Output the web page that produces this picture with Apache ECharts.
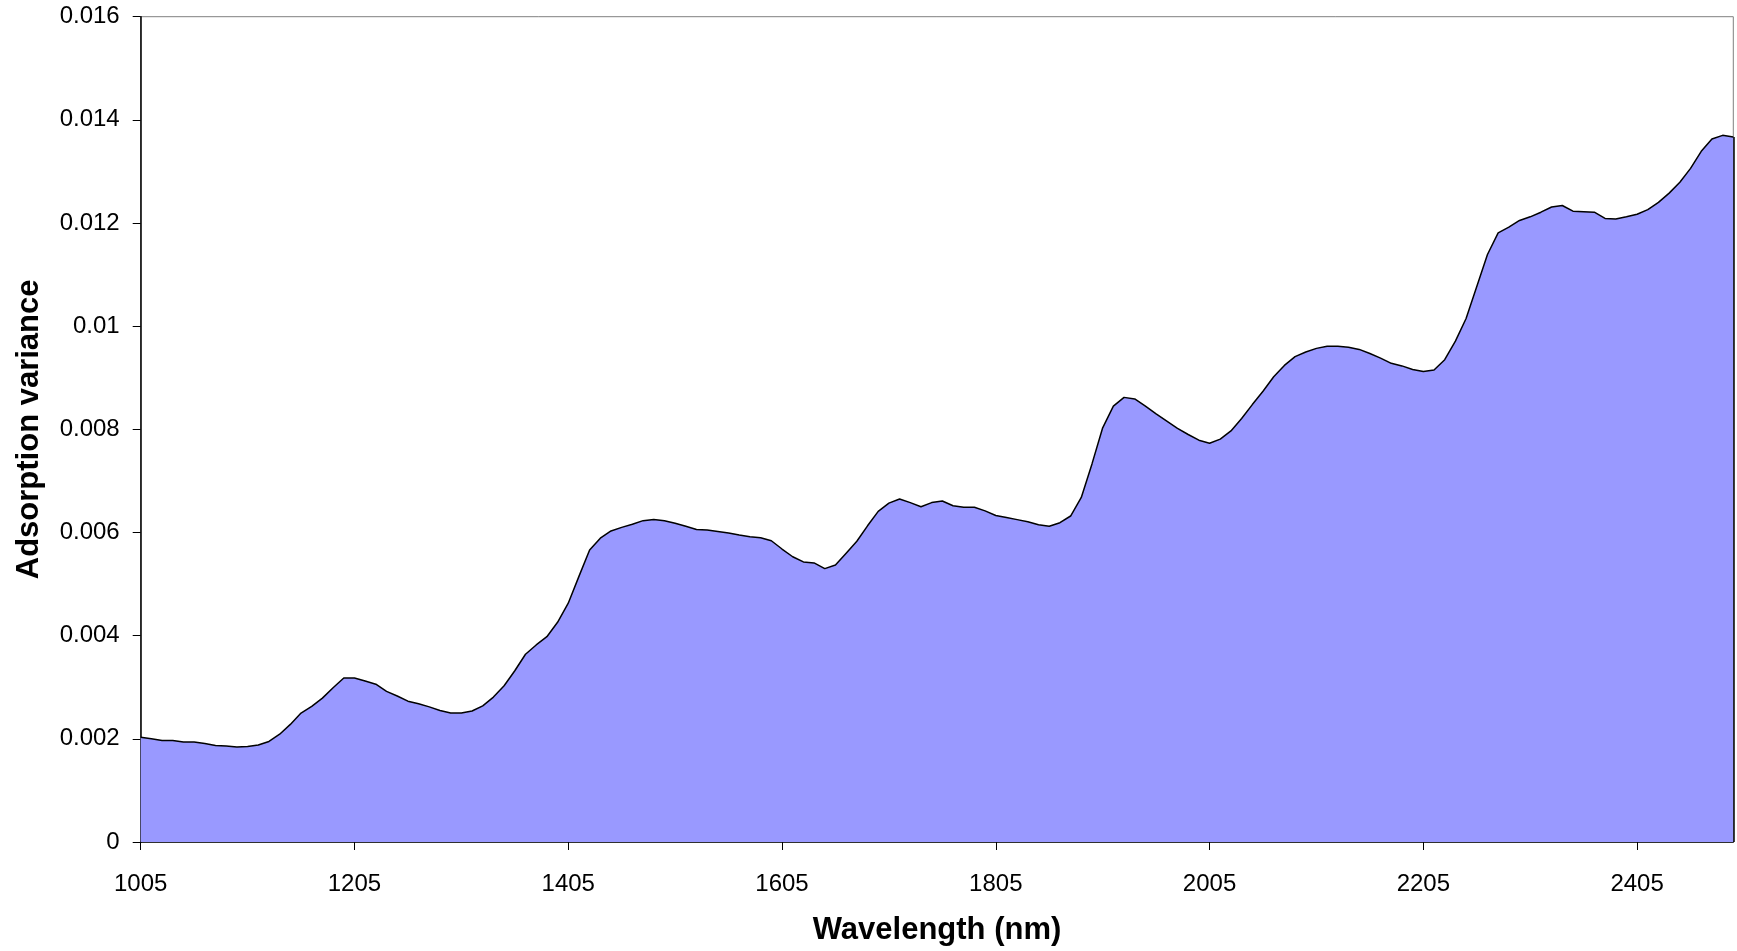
<!DOCTYPE html>
<html>
<head>
<meta charset="utf-8">
<title>Adsorption variance</title>
<script src="https://cdn.jsdelivr.net/npm/echarts@6/dist/echarts.min.js"></script>
<style>
  html, body { margin: 0; padding: 0; background: #ffffff; }
  #chart { width: 1737px; height: 951px; }
</style>
</head>
<body>
<div id="chart"></div>
<script>
// Wavelength grid (nm), 10 nm steps
const wavelengths = [
  1005,1015,1025,1035,1045,1055,1065,1075,1085,1095,
  1105,1115,1125,1135,1145,1155,1165,1175,1185,1195,
  1205,1215,1225,1235,1245,1255,1265,1275,1285,1295,
  1305,1315,1325,1335,1345,1355,1365,1375,1385,1395,
  1405,1415,1425,1435,1445,1455,1465,1475,1485,1495,
  1505,1515,1525,1535,1545,1555,1565,1575,1585,1595,
  1605,1615,1625,1635,1645,1655,1665,1675,1685,1695,
  1705,1715,1725,1735,1745,1755,1765,1775,1785,1795,
  1805,1815,1825,1835,1845,1855,1865,1875,1885,1895,
  1905,1915,1925,1935,1945,1955,1965,1975,1985,1995,
  2005,2015,2025,2035,2045,2055,2065,2075,2085,2095,
  2105,2115,2125,2135,2145,2155,2165,2175,2185,2195,
  2205,2215,2225,2235,2245,2255,2265,2275,2285,2295,
  2305,2315,2325,2335,2345,2355,2365,2375,2385,2395,
  2405,2415,2425,2435,2445,2455,2465,2475,2485,2495
];

// Adsorption variance at each wavelength
const variance = [
  0.00203,0.00200,0.00197,0.00197,0.00194,0.00194,0.00191,0.00187,0.00186,0.00184,
  0.00185,0.00188,0.00195,0.00209,0.00228,0.00250,0.00263,0.00279,0.00299,0.00318,
  0.00318,0.00312,0.00306,0.00292,0.00283,0.00273,0.00268,0.00262,0.00255,0.00250,
  0.00250,0.00254,0.00264,0.00281,0.00303,0.00332,0.00364,0.00382,0.00398,0.00426,
  0.00463,0.00515,0.00566,0.00589,0.00603,0.00610,0.00616,0.00623,0.00625,0.00623,
  0.00618,0.00612,0.00606,0.00605,0.00602,0.00599,0.00595,0.00592,0.00590,0.00584,
  0.00568,0.00553,0.00543,0.00541,0.00530,0.00537,0.00560,0.00583,0.00613,0.00641,
  0.00657,0.00665,0.00658,0.00650,0.00658,0.00661,0.00652,0.00649,0.00649,0.00642,
  0.00633,0.00629,0.00625,0.00621,0.00615,0.00612,0.00619,0.00632,0.00668,0.00733,
  0.00803,0.00845,0.00862,0.00859,0.00845,0.00830,0.00816,0.00802,0.00790,0.00779,
  0.00773,0.00781,0.00797,0.00821,0.00848,0.00874,0.00902,0.00924,0.00941,0.00950,
  0.00957,0.00961,0.00961,0.00959,0.00955,0.00947,0.00938,0.00928,0.00923,0.00916,
  0.00912,0.00915,0.00935,0.00971,0.01015,0.01077,0.01139,0.01181,0.01192,0.01205,
  0.01212,0.01221,0.01231,0.01234,0.01223,0.01222,0.01221,0.01209,0.01208,0.01212,
  0.01217,0.01226,0.01240,0.01258,0.01279,0.01306,0.01339,0.01363,0.01370,0.01367
];

// Value axis range and tick step
const yMin = 0;
const yMax = 0.016;
const yStep = 0.002;

// Every 20th wavelength carries a tick label
const xLabelEvery = 20;

const FONT = "'Liberation Sans', Arial, Helvetica, sans-serif";

const chart = echarts.init(document.getElementById('chart'), null, { renderer: 'canvas' });

const lastIndex = wavelengths.length - 1;

chart.setOption({
  backgroundColor: '#ffffff',
  animation: false,
  grid: {
    left: 140.7,
    right: 3.7,
    top: 16.7,
    bottom: 107.7,
    show: true,
    borderColor: '#808080',
    borderWidth: 1,
    backgroundColor: 'transparent'
  },
  xAxis: {
    type: 'category',
    data: wavelengths.map(String),
    boundaryGap: false,
    name: 'Wavelength (nm)',
    nameLocation: 'middle',
    nameGap: 73,
    nameTextStyle: { fontFamily: FONT, fontSize: 31, fontWeight: 'bold', color: '#000' },
    axisLine: { show: true, lineStyle: { color: '#000', width: 1.5 } },
    axisTick: {
      show: true,
      interval: xLabelEvery - 1,
      length: 8,
      inside: false,
      lineStyle: { color: '#000', width: 1 }
    },
    axisLabel: {
      interval: xLabelEvery - 1,
      fontFamily: FONT,
      fontSize: 24,
      color: '#000',
      margin: 30
    },
    splitLine: { show: false }
  },
  yAxis: {
    type: 'value',
    min: yMin,
    max: yMax,
    interval: yStep,
    name: 'Adsorption variance',
    nameLocation: 'middle',
    nameRotate: 90,
    nameGap: 96,
    nameTextStyle: { fontFamily: FONT, fontSize: 31, fontWeight: 'bold', color: '#000' },
    axisLine: { show: true, lineStyle: { color: '#000', width: 1.5 } },
    axisTick: { show: true, length: 8, inside: false, lineStyle: { color: '#000', width: 1 } },
    axisLabel: {
      fontFamily: FONT,
      fontSize: 24,
      color: '#000',
      margin: 21,
      formatter: function (v) { return String(+v.toFixed(3)); }
    },
    splitLine: { show: false }
  },
  series: [{
    type: 'line',
    data: variance,
    symbol: 'none',
    smooth: false,
    lineStyle: { color: '#000', width: 1.5 },
    areaStyle: { color: '#9999FF', opacity: 1 },
    silent: true,
    // closing edge of the filled area at the last wavelength
    markLine: {
      silent: true,
      symbol: ['none', 'none'],
      label: { show: false },
      lineStyle: { color: '#000', width: 1.5, type: 'solid' },
      data: [[
        { coord: [lastIndex, 0] },
        { coord: [lastIndex, variance[lastIndex]] }
      ]]
    }
  }]
});
</script>
</body>
</html>
